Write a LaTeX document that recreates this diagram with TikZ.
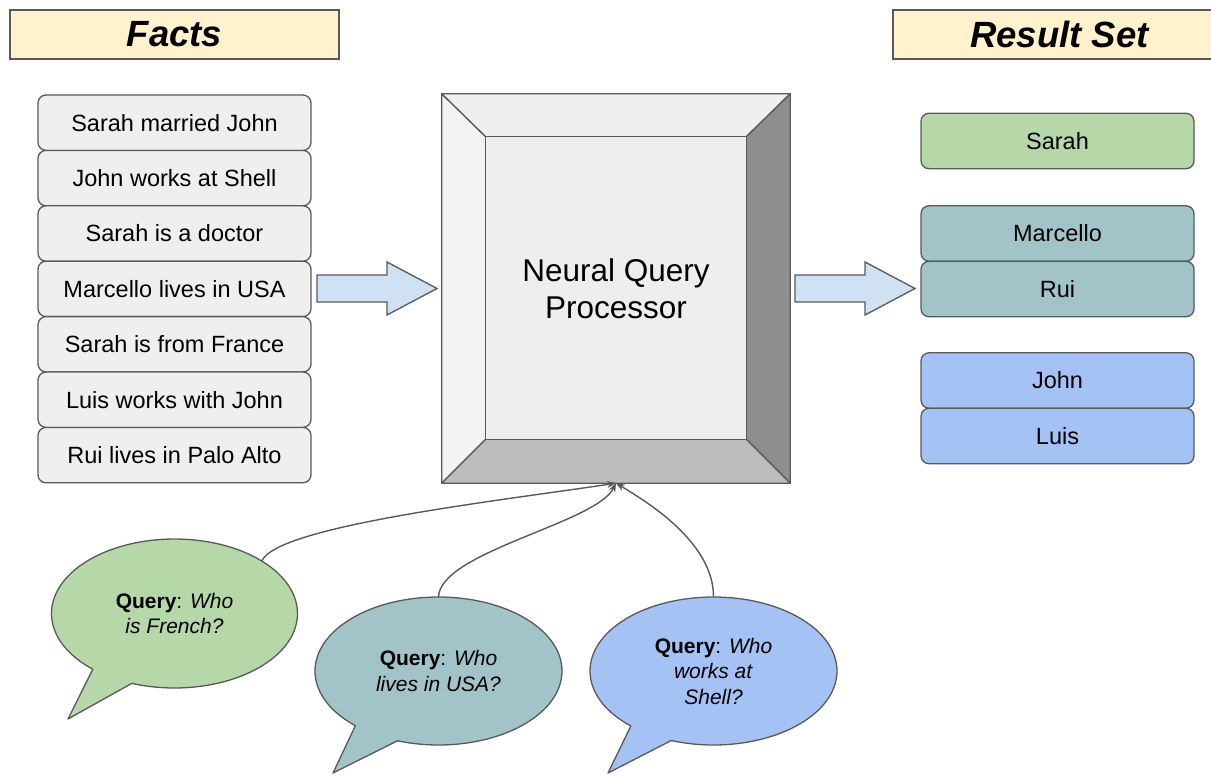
\documentclass[tikz,border=0pt]{standalone}
\usepackage{fontspec}
\setmainfont{Liberation Sans}
\usetikzlibrary{shapes.geometric,arrows.meta,calc}
\definecolor{edge}{HTML}{595959}
\definecolor{headfill}{HTML}{FFF2CC}
\definecolor{factfill}{HTML}{EFEFEF}
\definecolor{greenfill}{HTML}{B6D7A8}
\definecolor{tealfill}{HTML}{A2C4C9}
\definecolor{bluefill}{HTML}{A4C2F4}
\definecolor{arrowfill}{HTML}{CFE2F3}
\definecolor{bevelL}{HTML}{F3F3F3}
\definecolor{bevelT}{HTML}{EFEFEF}
\definecolor{bevelC}{HTML}{EEEEEE}
\definecolor{bevelR}{HTML}{8E8E8E}
\definecolor{bevelB}{HTML}{BDBDBD}
\begin{document}
\begin{tikzpicture}[x=1pt,y=-1pt,
  heading/.style={draw=edge, fill=headfill, line width=1.3pt, minimum height=49pt,
    inner sep=0pt, font=\fontsize{36.5}{40}\selectfont\bfseries\itshape},
  fact/.style={draw=edge, fill=factfill, rounded corners=8pt, line width=1.3pt,
    minimum width=273pt, minimum height=55.4pt, inner sep=0pt,
    font=\fontsize{23.5}{28}\selectfont},
  result/.style={fact, fill=#1},
  bubbletext/.style={ellipse, minimum width=246pt, minimum height=148pt, inner sep=0pt,
    align=center, font=\fontsize{21}{25.5}\selectfont},
  bubble/.style={draw=edge, fill=#1, line width=1.3pt, line join=round},
  bevel/.style={fill=#1, draw=edge, line width=1.3pt, line join=round},
  blockarrow/.style={draw=edge, fill=arrowfill, line width=1.3pt},
  link/.style={draw=edge, line width=1.4pt, -{Stealth[length=9pt,width=7pt]}}
]
\useasboundingbox (0,0) rectangle (1211,776);

% headings
\node[heading, minimum width=329pt] (facts) at (174.5,34.5) {Facts};
\node[heading, minimum width=333pt] (results) at (1059.5,34.5) {Result Set};

% fact list
\foreach \t [count=\i from 0] in {Sarah married John, John works at Shell,
  Sarah is a doctor, Marcello lives in USA, Sarah is from France,
  Luis works with John, Rui lives in Palo Alto}
  \node[fact] (f\i) at (174.5,{95+55.4*(\i+0.5)}) {\t};

% processor with bevelled frame
\node[minimum width=348pt, minimum height=389pt, inner sep=0pt] (proc) at (616,288.5) {};
\coordinate (inw) at ($(proc.north west)+(44,43)$);
\coordinate (ine) at ($(proc.north east)+(-44,43)$);
\coordinate (ise) at ($(proc.south east)+(-44,-44)$);
\coordinate (isw) at ($(proc.south west)+(44,-44)$);
\draw[bevel=bevelL] (proc.north west) -- (inw) -- (isw) -- (proc.south west) -- cycle;
\draw[bevel=bevelT] (proc.north west) -- (proc.north east) -- (ine) -- (inw) -- cycle;
\draw[bevel=bevelR] (proc.north east) -- (proc.south east) -- (ise) -- (ine) -- cycle;
\draw[bevel=bevelB] (proc.south west) -- (isw) -- (ise) -- (proc.south east) -- cycle;
\draw[bevel=bevelC] (inw) rectangle (ise);
\node[align=center, font=\fontsize{31.5}{37}\selectfont] (proclabel) at (proc.center)
  {Neural Query\\Processor};

% block arrows into and out of the processor
\draw[blockarrow] (317,275) -- (387,275) -- (387,262) -- (437,288.5) -- (387,315)
  -- (387,302) -- (317,302) -- cycle;
\draw[blockarrow] (795,275) -- (865,275) -- (865,262) -- (915,288.5) -- (865,315)
  -- (865,302) -- (795,302) -- cycle;

% result set
\node[result=greenfill] (r1) at (1057.5,141) {Sarah};
\node[result=tealfill] (r2) at (1057.5,233.5) {Marcello};
\node[result=tealfill] (r3) at (1057.5,289) {Rui};
\node[result=bluefill] (r4) at (1057.5,380.5) {John};
\node[result=bluefill] (r5) at (1057.5,436) {Luis};

% speech bubbles
\coordinate (c1) at (174.5,613.5);
\coordinate (c2) at (438.5,671);
\coordinate (c3) at (713.5,671);
\draw[bubble=greenfill] (68,719) -- ($(c1)+(131.6:123 and 74.5)$)
  arc[start angle=131.6, end angle=470.3, x radius=123, y radius=74.5] -- cycle;
\draw[bubble=tealfill] (333,773) -- ($(c2)+(132.3:123.5 and 74)$)
  arc[start angle=132.3, end angle=469.4, x radius=123.5, y radius=74] -- cycle;
\draw[bubble=bluefill] (608,773) -- ($(c3)+(132:123.5 and 74)$)
  arc[start angle=132, end angle=470, x radius=123.5, y radius=74] -- cycle;

\node[bubbletext] (q1) at (c1) {\textbf{Query}: \textit{Who}\\\textit{is French?}};
\node[bubbletext] (q2) at (c2) {\textbf{Query}: \textit{Who}\\\textit{lives in USA?}};
\node[bubbletext] (q3) at (c3) {\textbf{Query}: \textit{Who}\\\textit{works at}\\\textit{Shell?}};

% queries feeding the processor
\draw[link] (q1.31) .. controls +(15,-35) and +(-120,18) .. (proc.south);
\draw[link] (q2.north) .. controls +(2,-45) and +(-20,40) .. (proc.south);
\draw[link] (q3.north) .. controls +(0,-55) and +(30,18) .. (proc.south);
\end{tikzpicture}
\end{document}
